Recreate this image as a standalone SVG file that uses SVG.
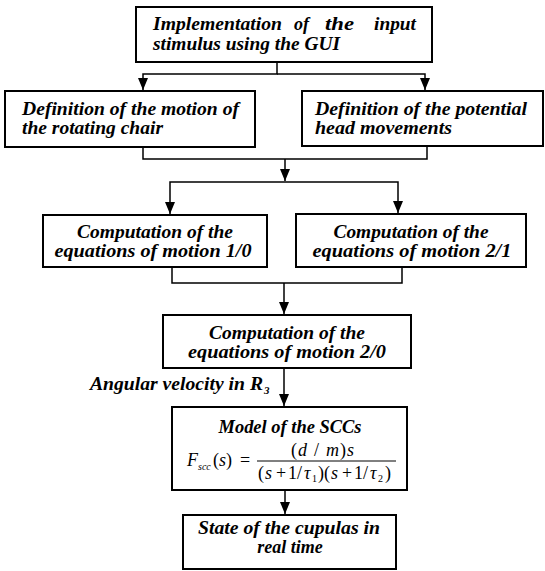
<svg xmlns="http://www.w3.org/2000/svg" width="545" height="571" viewBox="0 0 545 571">
<style>
.box{fill:#fff;stroke:#000;stroke-width:2}
.t{font-family:"Liberation Serif","Times New Roman",serif;font-weight:bold;font-style:italic;font-size:18px;fill:#000}
.m{font-family:"Liberation Serif","Times New Roman",serif;font-size:18px;fill:#000}
.i{font-style:italic}
.sub{font-size:10px}
.c{fill:none;stroke:#000;stroke-width:1.5}
</style>
<defs>
<marker id="ah" viewBox="0 0 12 10" refX="12" refY="5" markerWidth="12" markerHeight="10" markerUnits="userSpaceOnUse" orient="auto">
<path d="M0,0 L12,5 L0,10 z" fill="#000"/>
</marker>
</defs>
<rect width="545" height="571" fill="#fff"/>
<g id="connectors">
<path class="c" d="M277,62 V74 H143 V90" marker-end="url(#ah)"/>
<path class="c" d="M277,74 H425 V90" marker-end="url(#ah)"/>
<path class="c" d="M143,147 V159 H427 V146"/>
<path class="c" d="M285,159 V181" marker-end="url(#ah)"/>
<path class="c" d="M285,182 H170 V214" marker-end="url(#ah)"/>
<path class="c" d="M285,182 H398 V213" marker-end="url(#ah)"/>
<path class="c" d="M172,267 V283 H402 V267"/>
<path class="c" d="M284,283 V314" marker-end="url(#ah)"/>
<path class="c" d="M284,368 V406" marker-end="url(#ah)"/>
<path class="c" d="M285,490 V514" marker-end="url(#ah)"/>
</g>
<g id="n1">
<rect class="box" x="136" y="7" width="296" height="55"/>
<text class="t" x="153" y="30" textLength="129" lengthAdjust="spacingAndGlyphs">Implementation</text>
<text class="t" x="294" y="30" textLength="15" lengthAdjust="spacingAndGlyphs">of</text>
<text class="t" x="325" y="30" textLength="29" lengthAdjust="spacingAndGlyphs">the</text>
<text class="t" x="374" y="30" textLength="42" lengthAdjust="spacingAndGlyphs">input</text>
<text class="t" x="153" y="50" textLength="187" lengthAdjust="spacingAndGlyphs">stimulus using the GUI</text>
</g>
<g id="n2">
<rect class="box" x="5" y="91" width="250" height="56"/>
<text class="t" x="22" y="115" textLength="217" lengthAdjust="spacingAndGlyphs">Definition of the motion of</text>
<text class="t" x="22" y="134" textLength="141" lengthAdjust="spacingAndGlyphs">the rotating chair</text>
</g>
<g id="n3">
<rect class="box" x="302" y="91" width="241" height="55"/>
<text class="t" x="315" y="115" textLength="212" lengthAdjust="spacingAndGlyphs">Definition of the potential</text>
<text class="t" x="315" y="134" textLength="137" lengthAdjust="spacingAndGlyphs">head movements</text>
</g>
<g id="n4">
<rect class="box" x="43" y="215" width="224" height="52"/>
<text class="t" x="155" y="238" text-anchor="middle" textLength="156" lengthAdjust="spacingAndGlyphs">Computation of the</text>
<text class="t" x="153" y="257" text-anchor="middle" textLength="197" lengthAdjust="spacingAndGlyphs">equations of motion 1/0</text>
</g>
<g id="n5">
<rect class="box" x="296" y="214" width="230" height="53"/>
<text class="t" x="411" y="238" text-anchor="middle" textLength="155" lengthAdjust="spacingAndGlyphs">Computation of the</text>
<text class="t" x="412" y="257" text-anchor="middle" textLength="199" lengthAdjust="spacingAndGlyphs">equations of motion 2/1</text>
</g>
<g id="n6">
<rect class="box" x="163" y="315" width="248" height="53"/>
<text class="t" x="287" y="339" text-anchor="middle" textLength="156" lengthAdjust="spacingAndGlyphs">Computation of the</text>
<text class="t" x="287" y="358" text-anchor="middle" textLength="198" lengthAdjust="spacingAndGlyphs">equations of motion 2/0</text>
</g>
<g id="edge-label">
<text class="t" x="90" y="390" textLength="173" lengthAdjust="spacingAndGlyphs">Angular velocity in R</text>
<text class="t" x="264" y="394" style="font-size:11px">3</text>
</g>
<g id="n7">
<rect class="box" x="172" y="407" width="235" height="83"/>
<text class="t" x="290" y="433" text-anchor="middle" textLength="143" lengthAdjust="spacingAndGlyphs">Model of the SCCs</text>
<text class="m"><tspan class="i" x="187" y="466">F</tspan><tspan class="i sub" x="198" y="470">scc</tspan><tspan x="213" y="466">(</tspan><tspan class="i" x="219" y="466">s</tspan><tspan x="226" y="466">)</tspan><tspan x="240" y="466">=</tspan></text>
<line x1="257" y1="461" x2="396" y2="461" stroke="#000" stroke-width="1"/>
<text class="m" y="456"><tspan x="291">(</tspan><tspan class="i" x="298">d</tspan><tspan x="314">/</tspan><tspan class="i" x="326">m</tspan><tspan x="340">)</tspan><tspan class="i" x="347">s</tspan></text>
<text class="m"><tspan x="258" y="479">(</tspan><tspan class="i" x="265" y="479">s</tspan><tspan x="276" y="479">+</tspan><tspan x="288" y="479">1</tspan><tspan x="297" y="479">/</tspan><tspan class="i" x="304" y="479">τ</tspan><tspan class="sub" x="312" y="482">1</tspan><tspan x="318" y="479">)(</tspan><tspan class="i" x="331" y="479">s</tspan><tspan x="342" y="479">+</tspan><tspan x="354" y="479">1</tspan><tspan x="363" y="479">/</tspan><tspan class="i" x="370" y="479">τ</tspan><tspan class="sub" x="378" y="482">2</tspan><tspan x="385" y="479">)</tspan></text>
</g>
<g id="n8">
<rect class="box" x="183" y="515" width="213" height="54"/>
<text class="t" x="289" y="534" text-anchor="middle" textLength="182" lengthAdjust="spacingAndGlyphs">State of the cupulas in</text>
<text class="t" x="290" y="553" text-anchor="middle">real time</text>
</g>
</svg>
